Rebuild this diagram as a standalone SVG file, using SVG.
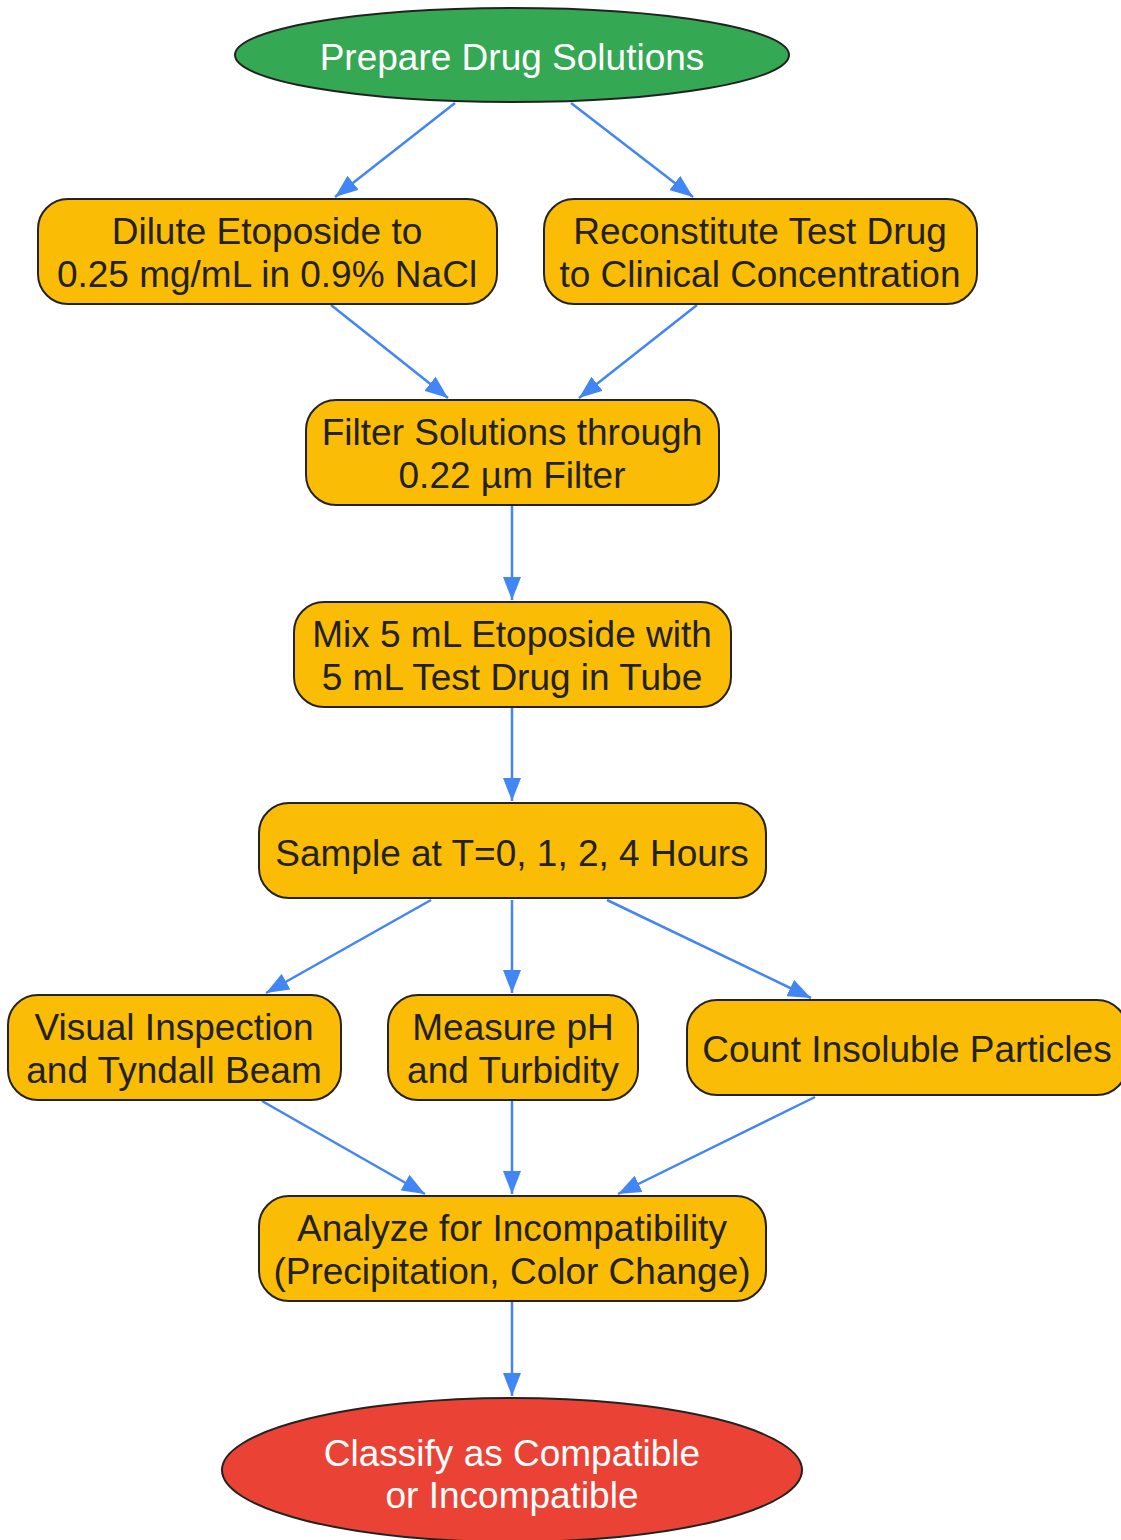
<svg xmlns="http://www.w3.org/2000/svg" width="1121" height="1540" viewBox="0 0 1121 1540">
<defs>
<marker id="ah" markerUnits="userSpaceOnUse" markerWidth="24" markerHeight="18" refX="23" refY="9" orient="auto">
<path d="M0,0 L23,9 L0,18 Z" fill="#4285f4"/>
</marker>
<style>
.box{fill:#fbbc05;stroke:#222;stroke-width:2}
.start{fill:#34a853;stroke:#222;stroke-width:2}
.end{fill:#ea4335;stroke:#222;stroke-width:2}
.t{font-family:"Liberation Sans",Arial,sans-serif;font-size:37px;fill:#222;text-anchor:middle}
.w{fill:#fff}
.e{fill:none;stroke:#4285f4;stroke-width:2.5;marker-end:url(#ah)}
</style>
</defs>
<rect width="1121" height="1540" fill="#fff"/>
<g id="connectors">
<path class="e" d="M455,103 L335,197"/>
<path class="e" d="M571,103 L693,197"/>
<path class="e" d="M331,305 L448,398"/>
<path class="e" d="M697,305 L579,398"/>
<path class="e" d="M512,506 L512,600"/>
<path class="e" d="M512,708 L512,801"/>
<path class="e" d="M431,900 L266,993"/>
<path class="e" d="M512,900 L512,993"/>
<path class="e" d="M607,900 L811,998"/>
<path class="e" d="M262,1101 L425,1194"/>
<path class="e" d="M512,1101 L512,1194"/>
<path class="e" d="M815,1097 L618,1194"/>
<path class="e" d="M512,1302 L512,1396"/>
</g>
<g id="n_start">
<ellipse class="start" cx="512" cy="55" rx="277" ry="47"/>
<text class="t w" x="512" y="70">Prepare Drug Solutions</text>
</g>
<g id="n_dilute">
<rect class="box" x="38" y="199" width="459" height="105" rx="30"/>
<text class="t" x="267" y="244">Dilute Etoposide to</text>
<text class="t" x="267" y="287">0.25 mg/mL in 0.9% NaCl</text>
</g>
<g id="n_recon">
<rect class="box" x="544" y="199" width="433" height="105" rx="30"/>
<text class="t" x="760" y="244">Reconstitute Test Drug</text>
<text class="t" x="760" y="287">to Clinical Concentration</text>
</g>
<g id="n_filter">
<rect class="box" x="306" y="400" width="413" height="105" rx="30"/>
<text class="t" x="512" y="445">Filter Solutions through</text>
<text class="t" x="512" y="488">0.22 µm Filter</text>
</g>
<g id="n_mix">
<rect class="box" x="294" y="602" width="437" height="105" rx="30"/>
<text class="t" x="512" y="647">Mix 5 mL Etoposide with</text>
<text class="t" x="512" y="690">5 mL Test Drug in Tube</text>
</g>
<g id="n_sample">
<rect class="box" x="259" y="803" width="507" height="95" rx="30"/>
<text class="t" x="512" y="866">Sample at T=0, 1, 2, 4 Hours</text>
</g>
<g id="n_visual">
<rect class="box" x="8" y="995" width="333" height="105" rx="30"/>
<text class="t" x="174" y="1040">Visual Inspection</text>
<text class="t" x="174" y="1083">and Tyndall Beam</text>
</g>
<g id="n_ph">
<rect class="box" x="388" y="995" width="250" height="105" rx="30"/>
<text class="t" x="513" y="1040">Measure pH</text>
<text class="t" x="513" y="1083">and Turbidity</text>
</g>
<g id="n_count">
<rect class="box" x="687" y="1000" width="440" height="95" rx="30"/>
<text class="t" x="907" y="1062">Count Insoluble Particles</text>
</g>
<g id="n_analyze">
<rect class="box" x="259" y="1196" width="507" height="105" rx="30"/>
<text class="t" x="512" y="1241">Analyze for Incompatibility</text>
<text class="t" x="512" y="1284">(Precipitation, Color Change)</text>
</g>
<g id="n_end">
<ellipse class="end" cx="512" cy="1470" rx="290" ry="72"/>
<text class="t w" x="512" y="1466">Classify as Compatible</text>
<text class="t w" x="512" y="1508">or Incompatible</text>
</g>
</svg>
